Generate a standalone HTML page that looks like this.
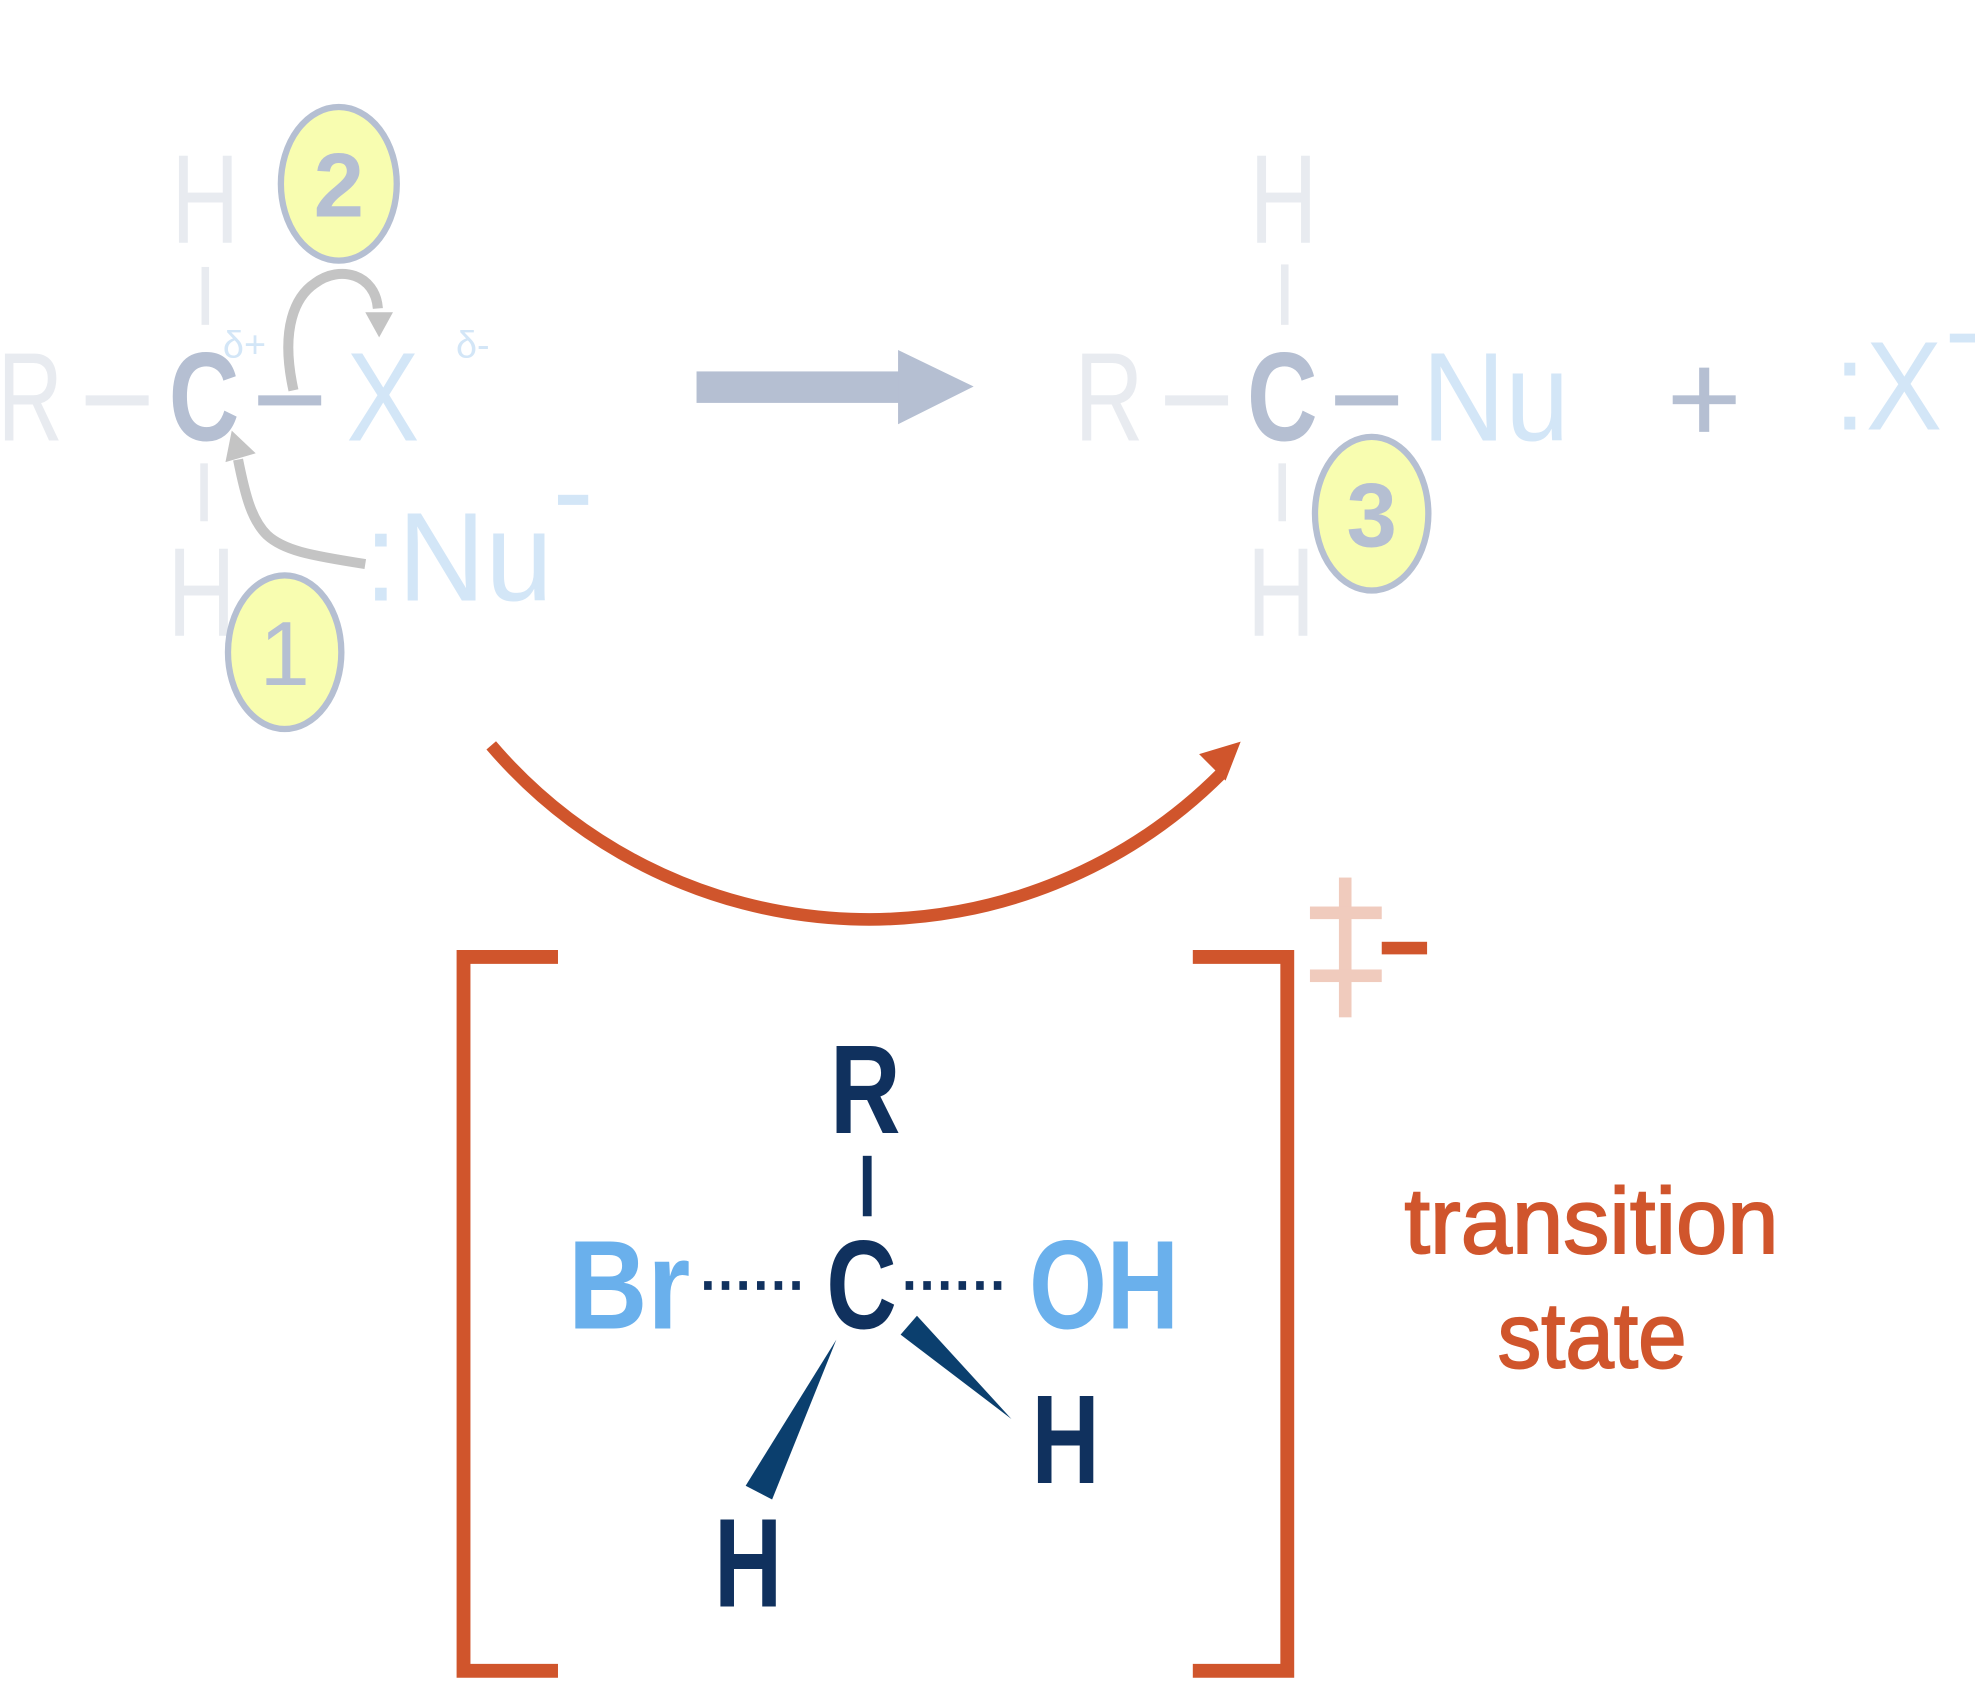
<!DOCTYPE html>
<html><head><meta charset="utf-8"><style>
html,body{margin:0;padding:0;background:#fff;}
svg{display:block;}
text{font-family:"Liberation Sans","DejaVu Sans",sans-serif;}
</style></head><body>
<svg width="1975" height="1701" viewBox="0 0 1568 1351" preserveAspectRatio="none" xmlns="http://www.w3.org/2000/svg">
<rect width="1568" height="1351" fill="#fff"/>
<!-- left molecule -->
<g font-size="100" lengthAdjust="spacingAndGlyphs">
<text x="-2" y="350" fill="#e8ebf0" textLength="52" lengthAdjust="spacingAndGlyphs">R</text>
<text x="134" y="350" fill="#b5bfd2" font-weight="bold" textLength="56" lengthAdjust="spacingAndGlyphs">C</text>
<text x="136" y="193" fill="#e8ebf0" textLength="54" lengthAdjust="spacingAndGlyphs">H</text>
<text x="133" y="505" fill="#e8ebf0" textLength="54" lengthAdjust="spacingAndGlyphs">H</text>
<text x="275" y="350" fill="#d3e6f7" textLength="58" lengthAdjust="spacingAndGlyphs">X</text>
<text x="289" y="477" fill="#d3e6f7" textLength="150" lengthAdjust="spacingAndGlyphs">:Nu</text>
</g>
<rect x="443" y="393" width="24" height="8" fill="#d3e6f7"/>
<text x="177" y="284" font-size="30" fill="#d3e6f7">δ+</text>
<text x="362" y="284" font-size="30" fill="#d3e6f7">δ-</text>
<rect x="68" y="314" width="50" height="8" fill="#e8ebf0"/>
<rect x="205" y="314" width="50" height="8" fill="#b5bfd2"/>
<rect x="160" y="212" width="6" height="46" fill="#e8ebf0"/>
<rect x="159" y="368" width="6" height="46" fill="#e8ebf0"/>
<!-- grey curved arrows -->
<path d="M290,448 C245,441 225,437 212,425 C200,413 195,395 189,365" fill="none" stroke="#c4c4c4" stroke-width="8"/>
<polygon points="184,342 203,360 179,367" fill="#c4c4c4"/>
<path d="M233,310 C222,260 235,235 250,225 C270,210 298,218 300,245" fill="none" stroke="#c4c4c4" stroke-width="8"/>
<polygon points="290,248 312,248 301,268" fill="#c4c4c4"/>
<!-- circles -->
<ellipse cx="226" cy="518" rx="45" ry="61" fill="#f8fdb0" stroke="#b5bfd2" stroke-width="5"/>
<text x="226" y="544" font-size="72" fill="#b5bfd2" text-anchor="middle">1</text>
<ellipse cx="269" cy="146" rx="46" ry="61" fill="#f8fdb0" stroke="#b5bfd2" stroke-width="5"/>
<text x="269" y="172" font-size="72" fill="#b5bfd2" text-anchor="middle" font-weight="bold">2</text>
<!-- big arrow -->
<rect x="553" y="295" width="162" height="25" fill="#b5bfd2"/>
<polygon points="713,278 773,307 713,337" fill="#b5bfd2"/>
<!-- right molecule -->
<g font-size="100">
<text x="853" y="350" fill="#e8ebf0" textLength="55" lengthAdjust="spacingAndGlyphs">R</text>
<text x="990" y="350" fill="#b5bfd2" font-weight="bold" textLength="56" lengthAdjust="spacingAndGlyphs">C</text>
<text x="992" y="193" fill="#e8ebf0" textLength="54" lengthAdjust="spacingAndGlyphs">H</text>
<text x="990" y="505" fill="#e8ebf0" textLength="54" lengthAdjust="spacingAndGlyphs">H</text>
<text x="1129" y="350" fill="#d3e6f7" textLength="117" lengthAdjust="spacingAndGlyphs">Nu</text>
<text x="1456" y="341" fill="#d3e6f7" textLength="86" lengthAdjust="spacingAndGlyphs">:X</text>
</g>
<rect x="1548" y="265" width="24" height="7" fill="#d3e6f7"/>
<rect x="925" y="314" width="50" height="8" fill="#e8ebf0"/>
<rect x="1060" y="314" width="50" height="8" fill="#b5bfd2"/>
<rect x="1017" y="210" width="6" height="48" fill="#e8ebf0"/>
<rect x="1015" y="368" width="6" height="46" fill="#e8ebf0"/>
<rect x="1328" y="314" width="50" height="7" fill="#b5bfd2"/>
<rect x="1349" y="292" width="8" height="51" fill="#b5bfd2"/>
<ellipse cx="1089" cy="408" rx="45" ry="61" fill="#f8fdb0" stroke="#b5bfd2" stroke-width="5"/>
<text x="1089" y="434" font-size="72" fill="#b5bfd2" text-anchor="middle" font-weight="bold">3</text>
<!-- orange arc -->
<path d="M390,592 A395,395 0 0 0 970,614" fill="none" stroke="#d0552c" stroke-width="10"/>
<polygon points="952,599 985,589 973,620" fill="#d0552c"/>
<!-- brackets -->
<path d="M443,760 H368 V1327 H443" fill="none" stroke="#d0552c" stroke-width="11"/>
<path d="M947,760 H1022 V1327 H947" fill="none" stroke="#d0552c" stroke-width="11"/>
<!-- double dagger -->
<rect x="1063" y="697" width="10" height="111" fill="#f0cbbd"/>
<rect x="1040" y="720" width="57" height="10" fill="#f0cbbd"/>
<rect x="1040" y="770" width="57" height="10" fill="#f0cbbd"/>
<rect x="1097" y="748" width="36" height="10" fill="#d0552c"/>
<text x="1115" y="995" font-size="74" fill="#d0552c" stroke="#d0552c" stroke-width="1.5" textLength="297" lengthAdjust="spacingAndGlyphs">transition</text>
<text x="1189" y="1086" font-size="74" fill="#d0552c" stroke="#d0552c" stroke-width="1.5" textLength="150" lengthAdjust="spacingAndGlyphs">state</text>
<!-- transition state structure -->
<g font-size="100" font-weight="bold">
<text x="659" y="900" fill="#10315e" textLength="56" lengthAdjust="spacingAndGlyphs">R</text>
<text x="656" y="1055" fill="#10315e" textLength="56" lengthAdjust="spacingAndGlyphs">C</text>
<text x="451" y="1055" fill="#6ab0ec" textLength="97" lengthAdjust="spacingAndGlyphs">Br</text>
<text x="817" y="1055" fill="#6ab0ec" textLength="119" lengthAdjust="spacingAndGlyphs">OH</text>
<text x="819" y="1178" fill="#10315e" textLength="54" lengthAdjust="spacingAndGlyphs">H</text>
<text x="567" y="1276" fill="#10315e" textLength="54" lengthAdjust="spacingAndGlyphs">H</text>
</g>
<rect x="685" y="918" width="7" height="48" fill="#10315e"/>
<line x1="559" y1="1021" x2="642" y2="1021" stroke="#10315e" stroke-width="7" stroke-dasharray="6 8"/>
<line x1="719" y1="1021" x2="802" y2="1021" stroke="#10315e" stroke-width="7" stroke-dasharray="6 8"/>
<polygon points="664,1064 592,1180 613,1191" fill="#0b3f6e"/>
<polygon points="728,1045 715,1060 803,1127" fill="#0b3f6e"/>
</svg>
</body></html>
